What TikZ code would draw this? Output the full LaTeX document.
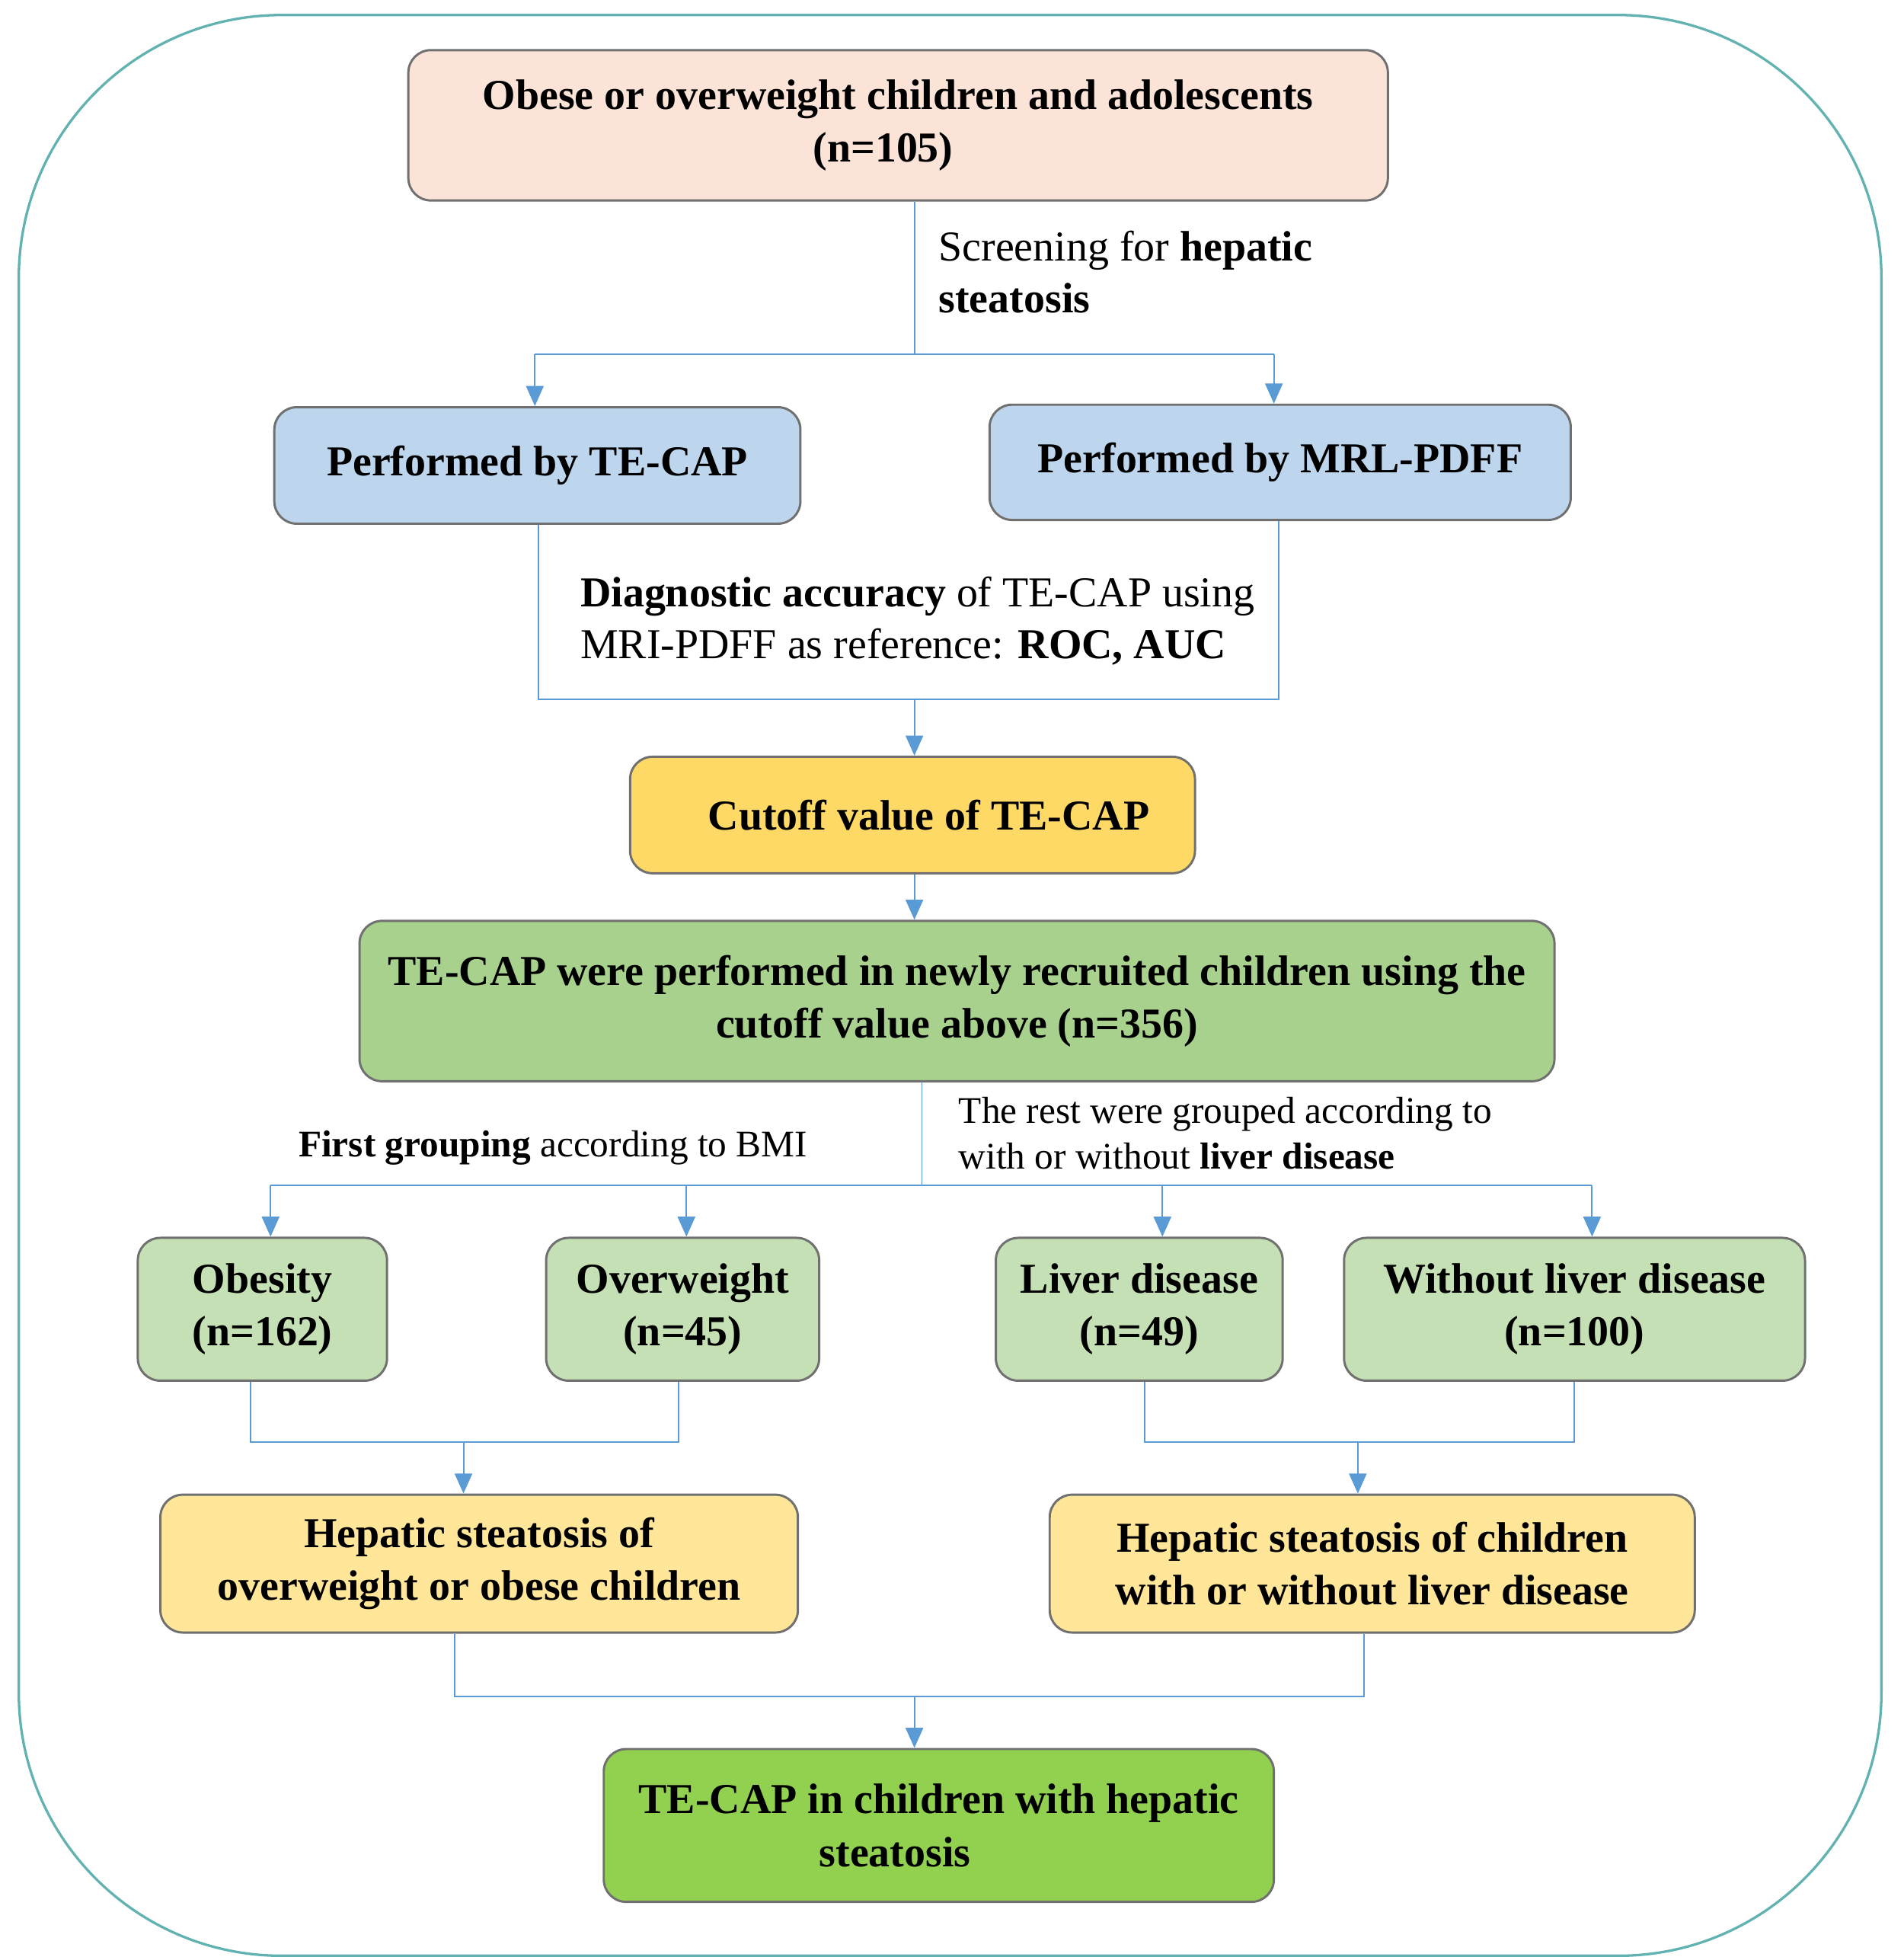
\documentclass[tikz,border=0pt]{standalone}
\usepackage{fontspec}
\setmainfont{Liberation Serif}
\usetikzlibrary{arrows.meta}
\definecolor{frameColor}{RGB}{98,178,178}
\definecolor{linkColor}{RGB}{91,155,213}
\definecolor{edgeColor}{RGB}{112,112,112}
\definecolor{peachFill}{RGB}{251,228,215}
\definecolor{blueFill}{RGB}{190,214,237}
\definecolor{goldFill}{RGB}{255,217,102}
\definecolor{greenFill}{RGB}{169,209,142}
\definecolor{paleGreenFill}{RGB}{197,224,180}
\definecolor{paleGoldFill}{RGB}{255,230,153}
\definecolor{limeFill}{RGB}{146,208,80}
\tikzstyle{flowchart} = [x = 0.5pt, y = -0.5pt]
\tikzstyle{boxStyle} = [draw=edgeColor, line width=0.9pt, rounded corners=9pt, align=center, inner sep=0pt, font=\fontsize{17}{21}\selectfont\bfseries]
\tikzstyle{linkLine} = [color=linkColor, line width=0.6pt]
\tikzstyle{linkArrow} = [linkLine, -{Triangle[width=7pt, length=8pt]}]
\tikzstyle{linkText} = [anchor=north west, align=left, inner sep=0pt, font=\fontsize{17}{20.5}\selectfont]
\tikzstyle{smallText} = [linkText, font=\fontsize{15}{18.5}\selectfont]
\tikzstyle{frameLine} = [color=frameColor, line width=1pt, rounded corners=105pt]
% box from corner (#3,#4) to corner (#5,#6)
\newcommand{\flowBox}[7]{\node [boxStyle, fill=#2, minimum width={(#5-#3)*0.5pt}, minimum height={(#6-#4)*0.5pt}] (#1) at ({(#3+#5)/2}, {(#4+#6)/2}) {#7};}
\newcommand{\padRight}[1]{\rule{#1}{0pt}}
\begin{document}
\begin{tikzpicture}[flowchart]
  \useasboundingbox (0,0) rectangle (1520,1562);
  \draw [frameLine] (15,12) rectangle (1502,1561);

  \flowBox{obese}{peachFill}{326}{40}{1108}{160}{Obese or overweight children and adolescents\\(n=105)\padRight{12pt}}
  \flowBox{tecap}{blueFill}{219}{325}{639}{418}{Performed by TE-CAP}
  \flowBox{mrl}{blueFill}{790}{323}{1254}{415}{Performed by MRL-PDFF}
  \flowBox{cutoff}{goldFill}{503}{604}{954}{697}{\hspace{13pt}Cutoff value of TE-CAP}
  \flowBox{recruited}{greenFill}{287}{735}{1241}{863}{TE-CAP were performed in newly recruited children using the\\cutoff value above (n=356)}
  \flowBox{obesity}{paleGreenFill}{110}{988}{309}{1102}{Obesity\\(n=162)}
  \flowBox{overweight}{paleGreenFill}{436}{988}{654}{1102}{Overweight\\(n=45)}
  \flowBox{liver}{paleGreenFill}{795}{988}{1024}{1102}{Liver disease\\(n=49)}
  \flowBox{noliver}{paleGreenFill}{1073}{988}{1441}{1102}{Without liver disease\\(n=100)}
  \flowBox{hepBMI}{paleGoldFill}{128}{1193}{637}{1303}{Hepatic steatosis of\\overweight or obese children}
  \flowBox{hepLiver}{paleGoldFill}{838}{1193}{1353}{1303}{Hepatic steatosis of children\\with or without liver disease}
  \flowBox{final}{limeFill}{482}{1396}{1017}{1518}{TE-CAP in children with hepatic\\steatosis\padRight{35pt}}

  % screening
  \coordinate (screenSplit) at (730,283);
  \coordinate (tecapDrop) at (427,283);
  \coordinate (mrlDrop) at (1017,283);
  \draw [linkLine] (obese.south -| screenSplit) -- (screenSplit);
  \draw [linkLine] (tecapDrop) -- (mrlDrop);
  \draw [linkArrow] (tecapDrop) -- (tecap.north -| tecapDrop);
  \draw [linkArrow] (mrlDrop) -- (mrl.north -| mrlDrop);
  \node [linkText] (screenLabel) at (749,184) {Screening for \textbf{hepatic}\\\textbf{steatosis}};

  % accuracy
  \coordinate (accuracyLeft) at (430,558);
  \coordinate (accuracyRight) at (1021,558);
  \coordinate (accuracyJoin) at (730,558);
  \draw [linkLine] (tecap.south -| accuracyLeft) -- (accuracyLeft) -- (accuracyRight) -- (mrl.south -| accuracyRight);
  \draw [linkArrow] (accuracyJoin) -- (cutoff.north -| accuracyJoin);
  \node [linkText] (accuracyLabel) at (463,460) {\textbf{Diagnostic accuracy} of TE-CAP using\\MRI-PDFF as reference: \textbf{ROC, AUC}};
  \draw [linkArrow] (cutoff.south -| accuracyJoin) -- (recruited.north -| accuracyJoin);

  % grouping
  \coordinate (groupSplit) at (736,946);
  \coordinate (obesityDrop) at (216,946);
  \coordinate (overweightDrop) at (548,946);
  \coordinate (liverDrop) at (928,946);
  \coordinate (noliverDrop) at (1271,946);
  \draw [linkLine] (recruited.south -| groupSplit) -- (groupSplit);
  \draw [linkLine] (obesityDrop) -- (noliverDrop);
  \foreach \target in {obesity, overweight, liver, noliver} {
    \draw [linkArrow] (\target Drop) -- (\target.north -| \target Drop);
  }
  \node [smallText] (bmiLabel) at (238,902) {\textbf{First grouping} according to BMI};
  \node [smallText] (restLabel) at (765,875) {The rest were grouped according to\\with or without \textbf{liver disease}};

  % merging
  \coordinate (bmiLeft) at (200,1151);
  \coordinate (bmiRight) at (542,1151);
  \coordinate (bmiJoin) at (370,1151);
  \draw [linkLine] (obesity.south -| bmiLeft) -- (bmiLeft) -- (bmiRight) -- (overweight.south -| bmiRight);
  \draw [linkArrow] (bmiJoin) -- (hepBMI.north -| bmiJoin);
  \coordinate (liverLeft) at (914,1151);
  \coordinate (liverRight) at (1257,1151);
  \coordinate (liverJoin) at (1084,1151);
  \draw [linkLine] (liver.south -| liverLeft) -- (liverLeft) -- (liverRight) -- (noliver.south -| liverRight);
  \draw [linkArrow] (liverJoin) -- (hepLiver.north -| liverJoin);
  \coordinate (finalLeft) at (363,1354);
  \coordinate (finalRight) at (1089,1354);
  \coordinate (finalJoin) at (730,1354);
  \draw [linkLine] (hepBMI.south -| finalLeft) -- (finalLeft) -- (finalRight) -- (hepLiver.south -| finalRight);
  \draw [linkArrow] (finalJoin) -- (final.north -| finalJoin);
\end{tikzpicture}
\end{document}
